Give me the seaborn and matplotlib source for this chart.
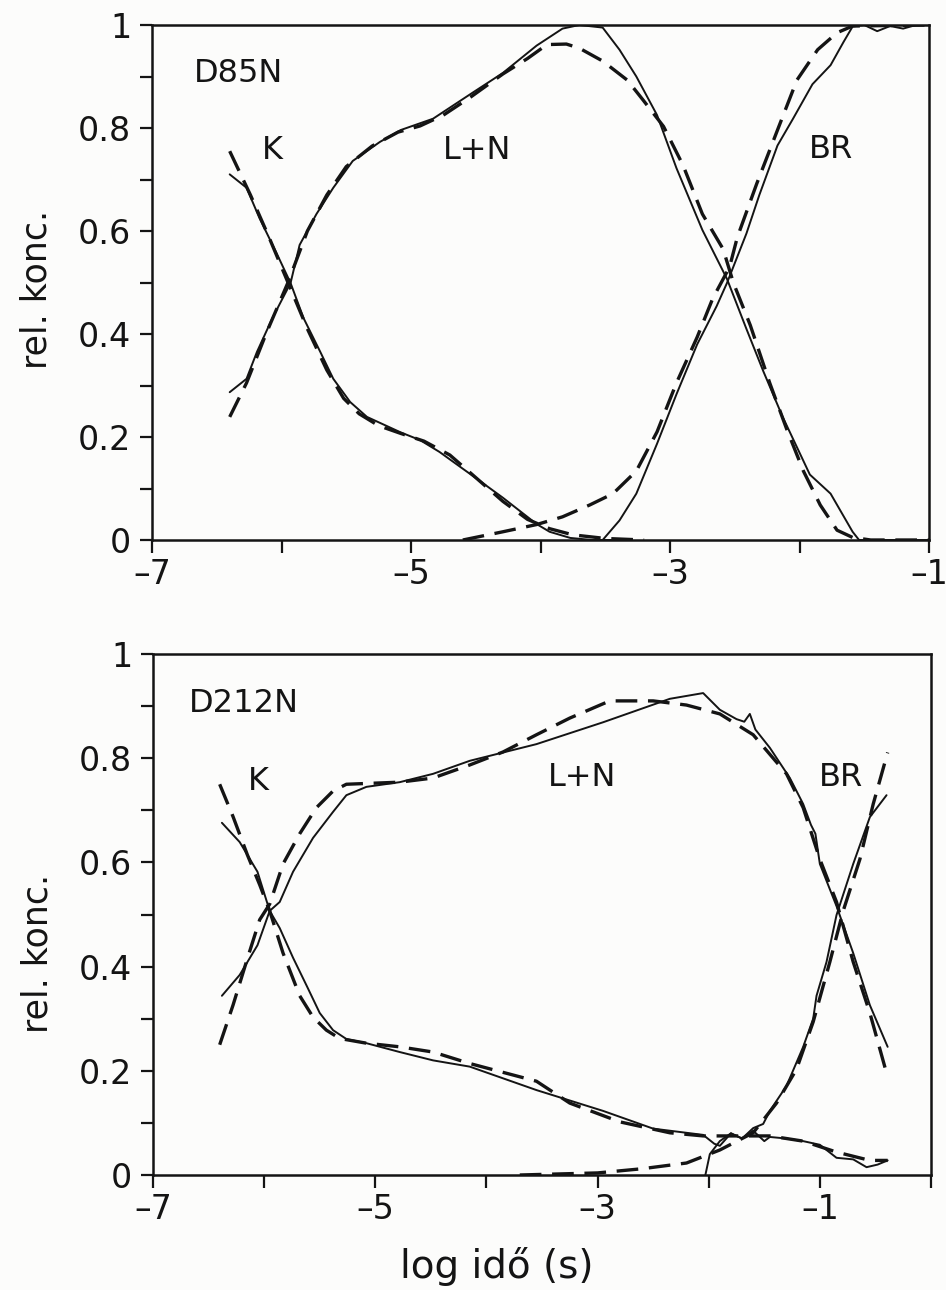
import numpy as np
import pandas as pd
import matplotlib
matplotlib.use("Agg")
import matplotlib.pyplot as plt
import seaborn as sns

# ---- D85N (upper panel) ----
d85_k_sol_x = [-6.40, -6.27, -6.17, -6.04, -5.93, -5.83, -5.70, -5.60, -5.47, -5.34, -5.08,
               -4.93, -4.78, -4.62, -4.47, -4.29, -4.03, -3.93, -3.77, -3.60, -3.40]
d85_k_sol_y = [0.710, 0.684, 0.625, 0.558, 0.499, 0.431, 0.365, 0.313, 0.268, 0.239, 0.209,
               0.194, 0.171, 0.142, 0.115, 0.082, 0.031, 0.016, 0.004, 0.0, 0.0]
d85_k_fit_x = [-6.40, -6.24, -6.10, -5.95, -5.80, -5.65, -5.52, -5.40, -5.25, -5.08, -4.90,
               -4.70, -4.54, -4.29, -4.10, -3.93, -3.75, -3.50, -3.20]
d85_k_fit_y = [0.755, 0.670, 0.590, 0.500, 0.410, 0.330, 0.275, 0.245, 0.222, 0.207, 0.192,
               0.165, 0.130, 0.075, 0.040, 0.022, 0.010, 0.003, 0.0]

d85_ln_sol_x = [-6.40, -6.27, -6.19, -6.07, -5.93, -5.86, -5.73, -5.60, -5.45, -5.24, -5.08,
                -4.83, -4.54, -4.29, -4.03, -3.83, -3.70, -3.52, -3.39, -3.26, -3.10, -2.95,
                -2.75, -2.56, -2.41, -2.28, -2.13, -1.92, -1.76, -1.59, -1.54, -1.00]
d85_ln_sol_y = [0.287, 0.313, 0.365, 0.431, 0.499, 0.573, 0.633, 0.684, 0.736, 0.773, 0.796,
                0.818, 0.866, 0.907, 0.960, 0.993, 1.000, 0.995, 0.952, 0.900, 0.825, 0.722,
                0.602, 0.507, 0.410, 0.328, 0.239, 0.127, 0.090, 0.016, 0.0, 0.0]
d85_ln_fit_x = [-6.40, -6.27, -6.12, -5.95, -5.80, -5.65, -5.50, -5.30, -5.10, -4.93, -4.75,
                -4.54, -4.29, -4.10, -3.95, -3.80, -3.70, -3.52, -3.33, -3.21, -3.05, -2.90,
                -2.75, -2.59, -2.51, -2.38, -2.23, -2.10, -1.97, -1.84, -1.71, -1.59, -1.45,
                -1.00]
d85_ln_fit_y = [0.239, 0.305, 0.400, 0.500, 0.600, 0.670, 0.725, 0.765, 0.792, 0.804, 0.825,
                0.860, 0.905, 0.935, 0.962, 0.963, 0.955, 0.930, 0.893, 0.855, 0.803, 0.728,
                0.633, 0.565, 0.499, 0.417, 0.305, 0.216, 0.134, 0.068, 0.019, 0.005, 0.0,
                0.0]

d85_br_sol_x = [-3.52, -3.39, -3.26, -3.10, -2.95, -2.79, -2.64, -2.56, -2.41, -2.31, -2.17,
                -2.05, -1.90, -1.76, -1.66, -1.59, -1.50, -1.40, -1.30, -1.20, -1.10, -1.00]
d85_br_sol_y = [0.0, 0.038, 0.090, 0.187, 0.283, 0.380, 0.454, 0.499, 0.595, 0.670, 0.766,
                0.818, 0.885, 0.922, 0.967, 0.997, 1.000, 0.988, 0.998, 0.993, 1.000, 1.000]
d85_br_fit_x = [-4.60, -4.29, -4.03, -3.83, -3.62, -3.44, -3.26, -3.10, -2.95, -2.79, -2.67,
                -2.54, -2.48, -2.33, -2.17, -2.02, -1.86, -1.71, -1.59, -1.00]
d85_br_fit_y = [0.0, 0.016, 0.030, 0.045, 0.068, 0.090, 0.134, 0.210, 0.305, 0.394, 0.469,
                0.530, 0.588, 0.692, 0.796, 0.893, 0.952, 0.985, 0.998, 1.000]

# ---- D212N (lower panel) ----
d212_k_sol_x = [-6.38, -6.22, -6.06, -5.95, -5.86, -5.74, -5.61, -5.50, -5.38, -5.26, -5.08,
                -4.78, -4.48, -4.15, -3.55, -2.95, -2.50, -2.05, -1.95, -1.90, -1.80, -1.70,
                -1.60, -1.50, -1.45, -1.30, -1.15, -1.00, -0.85, -0.70, -0.58, -0.48, -0.39]
d212_k_sol_y = [0.676, 0.639, 0.582, 0.507, 0.474, 0.417, 0.360, 0.311, 0.278, 0.261, 0.253,
                0.236, 0.220, 0.208, 0.163, 0.123, 0.089, 0.077, 0.060, 0.056, 0.080, 0.070,
                0.085, 0.065, 0.073, 0.070, 0.065, 0.058, 0.033, 0.030, 0.015, 0.020, 0.028]
d212_k_fit_x = [-6.40, -6.28, -6.15, -6.04, -5.95, -5.83, -5.68, -5.56, -5.44, -5.32, -5.08,
                -4.78, -4.48, -4.15, -3.55, -3.25, -2.80, -2.35, -2.05, -1.75, -1.45, -1.15,
                -0.85, -0.55, -0.39]
d212_k_fit_y = [0.750, 0.688, 0.614, 0.557, 0.507, 0.426, 0.344, 0.303, 0.278, 0.262, 0.253,
                0.246, 0.236, 0.214, 0.180, 0.138, 0.102, 0.081, 0.075, 0.075, 0.075, 0.065,
                0.044, 0.028, 0.028]

d212_ln_sol_x = [-6.38, -6.22, -6.06, -5.95, -5.86, -5.74, -5.56, -5.38, -5.26, -5.08, -4.78,
                 -4.48, -4.15, -3.55, -2.95, -2.35, -2.05, -1.90, -1.75, -1.68, -1.63, -1.58,
                 -1.45, -1.27, -1.15, -1.08, -1.04, -1.00, -0.85, -0.70, -0.55, -0.39]
d212_ln_sol_y = [0.344, 0.384, 0.441, 0.507, 0.524, 0.582, 0.647, 0.697, 0.729, 0.745, 0.754,
                 0.770, 0.795, 0.827, 0.869, 0.914, 0.925, 0.893, 0.875, 0.870, 0.885, 0.855,
                 0.820, 0.762, 0.712, 0.672, 0.655, 0.597, 0.516, 0.426, 0.326, 0.246]
d212_ln_fit_x = [-6.40, -6.28, -6.15, -6.04, -5.95, -5.83, -5.68, -5.53, -5.38, -5.26, -4.78,
                 -4.48, -4.15, -3.85, -3.55, -3.25, -2.89, -2.50, -2.20, -1.90, -1.60, -1.30,
                 -1.15, -1.00, -0.85, -0.70, -0.55, -0.39]
d212_ln_fit_y = [0.250, 0.326, 0.416, 0.490, 0.520, 0.597, 0.655, 0.705, 0.737, 0.750, 0.754,
                 0.762, 0.787, 0.812, 0.845, 0.877, 0.910, 0.910, 0.902, 0.885, 0.845, 0.770,
                 0.705, 0.606, 0.524, 0.409, 0.311, 0.188]

d212_br_sol_x = [-2.03, -1.99, -1.90, -1.80, -1.70, -1.60, -1.51, -1.45, -1.30, -1.15, -1.06,
                 -1.03, -0.94, -0.85, -0.70, -0.55, -0.40]
d212_br_sol_y = [0.0, 0.040, 0.065, 0.080, 0.070, 0.090, 0.098, 0.123, 0.171, 0.246, 0.300,
                 0.344, 0.409, 0.499, 0.597, 0.687, 0.729]
d212_br_fit_x = [-3.70, -3.00, -2.60, -2.20, -1.90, -1.60, -1.39, -1.21, -1.06, -0.91, -0.79,
                 -0.64, -0.52, -0.39]
d212_br_fit_y = [0.0, 0.004, 0.012, 0.023, 0.048, 0.081, 0.138, 0.203, 0.294, 0.409, 0.507,
                 0.606, 0.712, 0.811]

# ---- annotations ----
panel_names = ["D85N", "D212N"]
species_labels = ["K", "L+N", "BR"]
d85_label_pos = [(-6.15, 0.757), (-4.75, 0.757), (-1.93, 0.759)]
d212_label_pos = [(-6.15, 0.756), (-3.45, 0.762), (-1.01, 0.762)]
y_ticks = [0, 0.2, 0.4, 0.6, 0.8, 1.0]
y_tick_labels = ["0", "0.2", "0.4", "0.6", "0.8", "1"]
x_major = [-7, -5, -3, -1]
x_tick_labels = ["\u20137", "\u20135", "\u20133", "\u20131"]

sns.set_theme(style="white")
plt.rcParams["font.family"] = ["DejaVu Sans"]

INK = "#141414"
fig = plt.figure(figsize=(9.46, 12.9), dpi=100, facecolor="#fcfcfb")
ax_top = fig.add_axes([152 / 946, 1 - 540 / 1290, (929 - 152) / 946, (540 - 25) / 1290])
ax_bot = fig.add_axes([153 / 946, 1 - 1175 / 1290, (931 - 153) / 946, (1175 - 654) / 1290])


def curve(ax, xs, ys, fit):
    df = pd.DataFrame({"x": xs, "y": ys})
    if fit:
        sns.lineplot(data=df, x="x", y="y", ax=ax, color=INK, lw=2.4,
                     linestyle=(0, (6.5, 3.2)), sort=False, estimator=None)
    else:
        sns.lineplot(data=df, x="x", y="y", ax=ax, color=INK, lw=1.4,
                     sort=False, estimator=None)


top_curves = [(d85_k_sol_x, d85_k_sol_y, False), (d85_k_fit_x, d85_k_fit_y, True),
              (d85_ln_sol_x, d85_ln_sol_y, False), (d85_ln_fit_x, d85_ln_fit_y, True),
              (d85_br_sol_x, d85_br_sol_y, False), (d85_br_fit_x, d85_br_fit_y, True)]
bot_curves = [(d212_k_sol_x, d212_k_sol_y, False), (d212_k_fit_x, d212_k_fit_y, True),
              (d212_ln_sol_x, d212_ln_sol_y, False), (d212_ln_fit_x, d212_ln_fit_y, True),
              (d212_br_sol_x, d212_br_sol_y, False), (d212_br_fit_x, d212_br_fit_y, True)]

for ax, curves, xmax, minors, name, lpos in [
        (ax_top, top_curves, -1, [-6, -4, -2], panel_names[0], d85_label_pos),
        (ax_bot, bot_curves, 0, [-6, -4, -2, 0], panel_names[1], d212_label_pos)]:
    for xs, ys, fit in curves:
        curve(ax, xs, ys, fit)
    ax.set_facecolor("none")
    ax.set_xlim(-7, xmax)
    ax.set_ylim(0, 1)
    ax.set_xticks(x_major)
    ax.set_xticklabels(x_tick_labels)
    ax.set_xticks(minors, minor=True)
    ax.set_yticks(y_ticks)
    ax.set_yticklabels(y_tick_labels)
    ax.set_yticks([0.1, 0.3, 0.5, 0.7, 0.9], minor=True)
    ax.tick_params(axis="both", which="both", direction="out", length=9, width=1.6,
                   color=INK, labelcolor=INK, labelsize=24, bottom=True, left=True)
    ax.tick_params(axis="y", pad=6)
    ax.tick_params(axis="x", pad=4)
    for sp in ax.spines.values():
        sp.set_visible(True)
        sp.set_linewidth(1.8)
        sp.set_color(INK)
    ax.set_xlabel("")
    ax.set_ylabel("rel. konc.", fontsize=25, color=INK)
    ax.text(-6.68, 0.905, name, fontsize=23, color=INK, ha="left", va="center")
    for lab, (lx, ly) in zip(species_labels, lpos):
        ax.text(lx, ly, lab, fontsize=23, color=INK, ha="left", va="center")

ax_top.yaxis.set_label_coords(-0.127, 0.487)
ax_bot.yaxis.set_label_coords(-0.127, 0.426)

fig.text(497 / 946, 1 - 1266 / 1290, "log idő (s)", fontsize=28, color=INK,
         ha="center", va="center")

fig.savefig("out.png", dpi=100, facecolor=fig.get_facecolor())
